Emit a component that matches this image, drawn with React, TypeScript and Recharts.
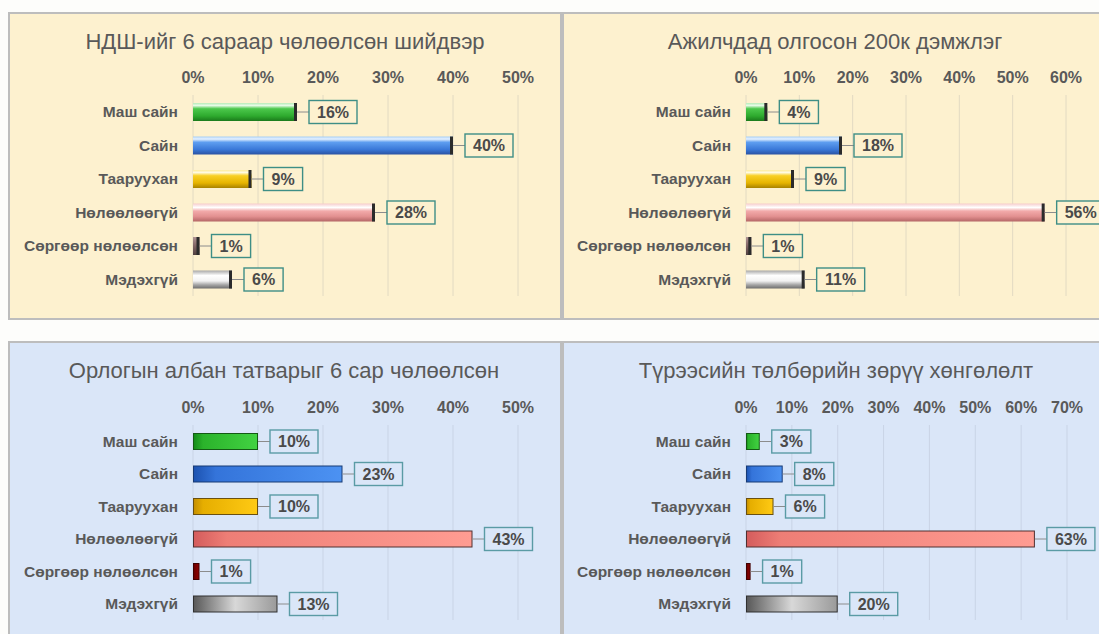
import { BarChart, Bar, XAxis, YAxis, CartesianGrid, LabelList } from "recharts";

const FONT = '"Liberation Sans", Arial, sans-serif';

const categories = [
  "Маш сайн",
  "Сайн",
  "Тааруухан",
  "Нөлөөлөөгүй",
  "Сөргөөр нөлөөлсөн",
  "Мэдэхгүй",
];

// percent of respondents per answer
const ndshValues = [16, 40, 9, 28, 1, 6];
const ajilchidValues = [4, 18, 9, 56, 1, 11];
const orlogoValues = [10, 23, 10, 43, 1, 13];
const tureesValues = [3, 8, 6, 63, 1, 20];

const ticks50 = [0, 10, 20, 30, 40, 50];
const ticks60 = [0, 10, 20, 30, 40, 50, 60];
const ticks70 = [0, 10, 20, 30, 40, 50, 60, 70];

const titleNdsh = "НДШ-ийг 6 сараар чөлөөлсөн шийдвэр";
const titleAjilchid = "Ажилчдад олгосон 200к дэмжлэг";
const titleOrlogo = "Орлогын албан татварыг 6 сар чөлөөлсөн";
const titleTurees = "Түрээсийн төлбөрийн зөрүү хөнгөлөлт";

// vertical "bevel" gradients for the top row
const bevelStops: [number, string][][] = [
  [[0, "#b8ecb8"], [0.14, "#e6fbe6"], [0.32, "#4cc84c"], [0.72, "#2eaa2e"], [1, "#1b7a1b"]],
  [[0, "#a8cff6"], [0.14, "#e6f2ff"], [0.32, "#5e9ef0"], [0.72, "#3a78d8"], [1, "#2a52a2"]],
  [[0, "#fdeb9c"], [0.14, "#fffbe2"], [0.32, "#f8d024"], [0.72, "#e6b400"], [1, "#a88200"]],
  [[0, "#f6cccc"], [0.22, "#ffffff"], [0.42, "#f2aaaa"], [0.72, "#e29090"], [1, "#b46666"]],
  [[0, "#b09494"], [0.5, "#806464"], [1, "#504040"]],
  [[0, "#a8a8a8"], [0.28, "#ffffff"], [0.58, "#f2f2f2"], [0.8, "#a4a4a4"], [1, "#6e6e6e"]],
];

// horizontal gradients with a dark outline for the bottom row
const flatStops: [number, string][][] = [
  [[0, "#138c18"], [0.15, "#2bb32b"], [1, "#42d242"]],
  [[0, "#1c52b0"], [0.15, "#3474da"], [1, "#4c92f2"]],
  [[0, "#c48e00"], [0.15, "#e6ae00"], [1, "#ffca14"]],
  [[0, "#d45c5c"], [0.12, "#ee7e76"], [1, "#ff9c92"]],
  [[0, "#660000"], [1, "#920000"]],
  [[0, "#585858"], [0.5, "#d8d8d8"], [1, "#9a9a9a"]],
];
const flatStroke = ["#145a14", "#173a75", "#6a5010", "#503030", "#400000", "#303030"];

function BevelBar(props: any) {
  const { x, y, width, height, index, prefix } = props;
  if (!width || width <= 0) return null;
  const cap = Math.min(3, width);
  return (
    <g>
      <rect x={x} y={y} width={width} height={height} fill={`url(#${prefix}-${index})`} />
      <rect x={x + width - cap} y={y} width={cap} height={height} fill="#2b2b2b" />
    </g>
  );
}

function FlatBar(props: any) {
  const { x, y, width, height, index, prefix } = props;
  if (!width || width <= 0) return null;
  return (
    <rect
      x={x + 0.5}
      y={y + 0.5}
      width={Math.max(width - 1, 1)}
      height={height - 1}
      fill={`url(#${prefix}-${index})`}
      stroke={flatStroke[index]}
      strokeWidth={1}
    />
  );
}

function BoxLabel(props: any) {
  const vb = props.viewBox || {};
  const x = props.x ?? vb.x;
  const y = props.y ?? vb.y;
  const width = props.width ?? vb.width;
  const height = props.height ?? vb.height;
  const { value, boxColor, bg } = props;
  const tw = String(value).length * 8.9 + 14.2;
  const bw = tw + 16;
  const bh = 23;
  const endX = x + width;
  const cy = y + height / 2;
  const bx = endX + 12;
  return (
    <g>
      <line x1={endX} y1={cy} x2={bx} y2={cy} stroke="#8c8c8c" strokeWidth={1} />
      <rect x={bx} y={cy - bh / 2} width={bw} height={bh} fill={bg} stroke={boxColor} strokeWidth={1.4} />
      <text
        x={bx + bw / 2}
        y={cy}
        dy="0.36em"
        textAnchor="middle"
        fontFamily={FONT}
        fontSize={16}
        fontWeight="bold"
        fill="#4a4a4a"
      >
        {`${value}%`}
      </text>
    </g>
  );
}

type PanelProps = {
  left: number;
  top: number;
  width: number;
  height: number;
  bg: string;
  title: string;
  titleCenter: number;
  values: number[];
  ticks: number[];
  margin: { top: number; right: number; bottom: number; left: number };
  barSize: number;
  variant: "bevel" | "flat";
  prefix: string;
  gridColor: string;
  boxColor: string;
};

function Panel(p: PanelProps) {
  const data = categories.map((name, i) => ({ name, value: p.values[i] }));
  const stops = p.variant === "bevel" ? bevelStops : flatStops;
  const max = p.ticks[p.ticks.length - 1];
  return (
    <>
      <div
        style={{
          position: "absolute",
          left: p.left,
          top: p.top,
          width: p.width,
          height: p.height,
          background: p.bg,
          border: "2px solid #bdbdbd",
          boxSizing: "border-box",
        }}
      />
      <div
        style={{
          position: "absolute",
          left: p.titleCenter - 250,
          width: 500,
          top: p.top + 18,
          textAlign: "center",
          fontFamily: FONT,
          fontSize: 22,
          lineHeight: "24px",
          color: "#595959",
          whiteSpace: "nowrap",
        }}
      >
        {p.title}
      </div>
      <div style={{ position: "absolute", left: p.left, top: p.top }}>
        <BarChart width={p.width} height={p.height} data={data} layout="vertical" margin={p.margin}>
          <defs>
            {stops.map((s, i) => (
              <linearGradient
                key={i}
                id={`${p.prefix}-${i}`}
                x1="0"
                y1="0"
                x2={p.variant === "bevel" ? "0" : "1"}
                y2={p.variant === "bevel" ? "1" : "0"}
              >
                {s.map(([o, c], j) => (
                  <stop key={j} offset={o} stopColor={c} />
                ))}
              </linearGradient>
            ))}
          </defs>
          <CartesianGrid horizontal={false} stroke={p.gridColor} />
          <XAxis
            type="number"
            orientation="top"
            domain={[0, max]}
            ticks={p.ticks}
            interval={0}
            tickFormatter={(v) => `${v}%`}
            axisLine={false}
            tickLine={false}
            tickSize={0}
            tickMargin={12}
            height={30}
            tick={{ fontSize: 16, fontWeight: "bold", fill: "#595959", fontFamily: FONT }}
          />
          <YAxis
            type="category"
            dataKey="name"
            width={175}
            interval={0}
            axisLine={false}
            tickLine={false}
            tickSize={0}
            tickMargin={15}
            tick={{ fontSize: 15.5, fontWeight: "bold", fill: "#595959", fontFamily: FONT }}
          />
          <Bar
            dataKey="value"
            barSize={p.barSize}
            isAnimationActive={false}
            shape={(sp: any) =>
              p.variant === "bevel" ? (
                <BevelBar {...sp} prefix={p.prefix} />
              ) : (
                <FlatBar {...sp} prefix={p.prefix} />
              )
            }
          >
            <LabelList
              dataKey="value"
              content={(lp: any) => <BoxLabel {...lp} boxColor={p.boxColor} bg={p.bg} />}
            />
          </Bar>
        </BarChart>
      </div>
    </>
  );
}

export default function App() {
  const beige = "#fdf1cf";
  const blue = "#dae6f8";
  return (
    <div
      style={{
        position: "absolute",
        left: 0,
        top: 0,
        width: 1099,
        height: 634,
        overflow: "hidden",
        background: "#fdfdfb",
      }}
    >
      <Panel
        left={8}
        top={12}
        width={554}
        height={308}
        bg={beige}
        title={titleNdsh}
        titleCenter={285}
        values={ndshValues}
        ticks={ticks50}
        margin={{ top: 53, right: 44, bottom: 24, left: 10 }}
        barSize={18}
        variant="bevel"
        prefix="tl"
        gridColor="#e2dac2"
        boxColor="#3e8e86"
      />
      <Panel
        left={562}
        top={12}
        width={600}
        height={308}
        bg={beige}
        title={titleAjilchid}
        titleCenter={835}
        values={ajilchidValues}
        ticks={ticks60}
        margin={{ top: 53, right: 96, bottom: 24, left: 9 }}
        barSize={18}
        variant="bevel"
        prefix="tr"
        gridColor="#e2dac2"
        boxColor="#3e8e86"
      />
      <Panel
        left={8}
        top={341}
        width={554}
        height={300}
        bg={blue}
        title={titleOrlogo}
        titleCenter={284}
        values={orlogoValues}
        ticks={ticks50}
        margin={{ top: 54, right: 44, bottom: 21, left: 10 }}
        barSize={17}
        variant="flat"
        prefix="bl"
        gridColor="#c9d4e6"
        boxColor="#5a9ba5"
      />
      <Panel
        left={562}
        top={341}
        width={600}
        height={300}
        bg={blue}
        title={titleTurees}
        titleCenter={836}
        values={tureesValues}
        ticks={ticks70}
        margin={{ top: 54, right: 95, bottom: 21, left: 9 }}
        barSize={17}
        variant="flat"
        prefix="br"
        gridColor="#c9d4e6"
        boxColor="#5a9ba5"
      />
    </div>
  );
}
